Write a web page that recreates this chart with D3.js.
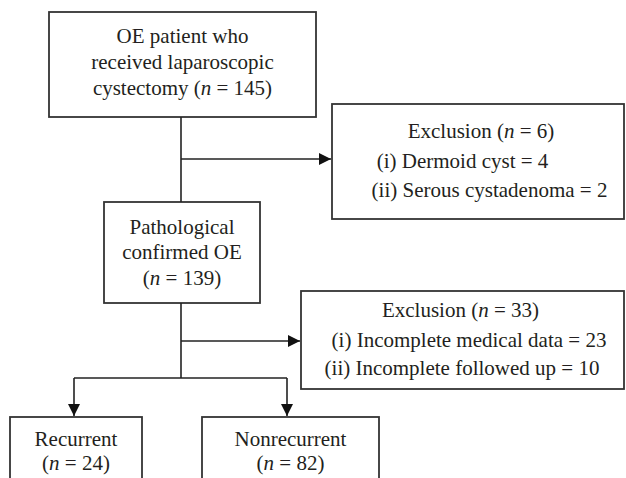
<!DOCTYPE html>
<html>
<head>
<meta charset="utf-8">
<script src="https://cdn.jsdelivr.net/npm/d3@7"></script>
<style>
  html, body { margin: 0; padding: 0; background: #fff; }
  svg { display: block; }
  text { font-family: "Liberation Serif", "Times New Roman", serif; fill: #231f20; }
</style>
</head>
<body>
<svg id="chart" width="626" height="478"></svg>
<script>
// ---- Data ----
const stageNames = ["OE patient who received laparoscopic cystectomy", "Pathological confirmed OE", "Recurrent", "Nonrecurrent"];
const stageCounts = [145, 139, 24, 82];
const exclusionTotals = [6, 33];
const exclusion1Reasons = ["Dermoid cyst", "Serous cystadenoma"];
const exclusion1Counts = [4, 2];
const exclusion2Reasons = ["Incomplete medical data", "Incomplete followed up"];
const exclusion2Counts = [23, 10];
const romans = ["i", "ii"];

// ---- Drawing ----
const svg = d3.select("#chart");
const stroke = "#333";
const fs = 21;

const defs = svg.append("defs");
defs.append("marker").attr("id", "arrow")
  .attr("viewBox", "0 0 12 12").attr("refX", 12).attr("refY", 6)
  .attr("markerWidth", 12).attr("markerHeight", 12).attr("markerUnits", "userSpaceOnUse")
  .attr("orient", "auto")
  .append("path").attr("d", "M0,0 L12,6 L0,12 Z").attr("fill", "#111");

function box(x0, y0, x1, y1) {
  svg.append("rect").attr("x", x0).attr("y", y0).attr("width", x1 - x0).attr("height", y1 - y0)
    .attr("fill", "none").attr("stroke", stroke).attr("stroke-width", 1.8);
}
function line(pts, arrow) {
  const p = svg.append("path").attr("d", d3.line()(pts)).attr("fill", "none")
    .attr("stroke", "#222").attr("stroke-width", 1.6);
  if (arrow) p.attr("marker-end", "url(#arrow)");
}
// line with segments: array of parts [{t, italic}]
function textLine(x, y, parts) {
  const t = svg.append("text").attr("x", x).attr("y", y).attr("text-anchor", "middle")
    .attr("font-size", fs);
  parts.forEach(p => {
    t.append("tspan").attr("font-style", p.i ? "italic" : "normal").text(p.t);
  });
}
const nParts = (pre, n) => [{t: pre + "("}, {t: "n", i: true}, {t: " = " + n + ")"}];

// Box 1
box(49, 12, 316, 117);
const w1 = stageNames[0].split(" ");
textLine(182.5, 43, [{t: w1.slice(0, 3).join(" ")}]);
textLine(182.5, 69, [{t: w1.slice(3, 5).join(" ")}]);
textLine(182.5, 95, nParts(w1[5] + " ", stageCounts[0]));

// Exclusion box 1
box(332, 104, 624, 219);
textLine(481, 138, nParts("Exclusion ", exclusionTotals[0]));
textLine(462.5, 168, [{t: "(" + romans[0] + ") " + exclusion1Reasons[0] + " = " + exclusion1Counts[0]}]);
textLine(489.5, 197, [{t: "(" + romans[1] + ") " + exclusion1Reasons[1] + " = " + exclusion1Counts[1]}]);

// Box 2
box(104, 202, 260, 303);
const w2 = stageNames[1].split(" ");
textLine(182, 234, [{t: w2[0]}]);
textLine(182, 259, [{t: w2.slice(1).join(" ")}]);
textLine(182, 285, nParts("", stageCounts[1]));

// Exclusion box 2
box(301, 291, 624, 389);
textLine(460.5, 317, nParts("Exclusion ", exclusionTotals[1]));
textLine(469, 347, [{t: "(" + romans[0] + ") " + exclusion2Reasons[0] + " = " + exclusion2Counts[0]}]);
textLine(462, 375, [{t: "(" + romans[1] + ") " + exclusion2Reasons[1] + " = " + exclusion2Counts[1]}]);

// Outcome boxes
box(10, 417, 142, 490);
textLine(76, 446, [{t: stageNames[2]}]);
textLine(76, 470, nParts("", stageCounts[2]));
box(202, 417, 379, 490);
textLine(290.5, 446, [{t: stageNames[3]}]);
textLine(290.5, 470, nParts("", stageCounts[3]));

// Connectors
line([[181, 117], [181, 202]]);
line([[181, 159], [331, 159]], true);
line([[181, 303], [181, 378]]);
line([[181, 341], [300, 341]], true);
line([[74, 378], [287, 378]]);
line([[74, 378], [74, 416]], true);
line([[287, 378], [287, 416]], true);
</script>
</body>
</html>
